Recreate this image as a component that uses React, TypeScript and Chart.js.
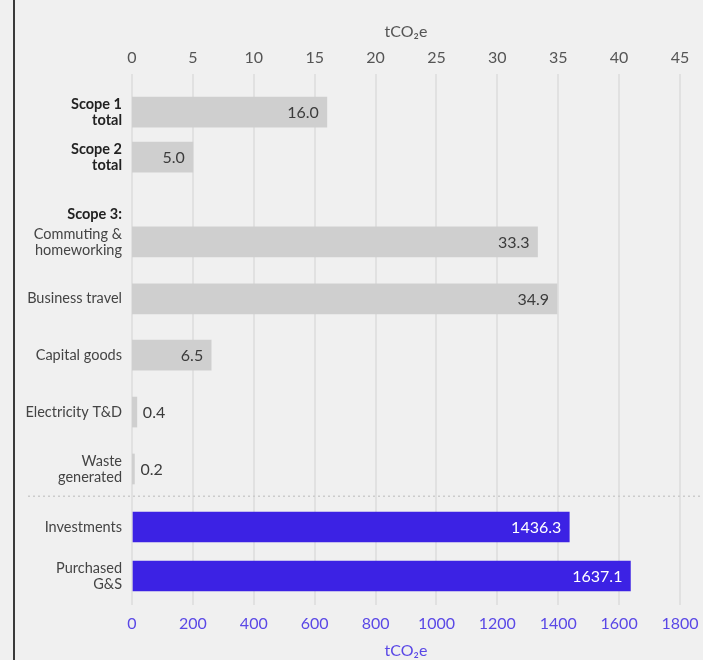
import React, { useEffect, useRef } from "react";
import { Chart, registerables } from "chart.js";

Chart.register(...registerables);

// Row labels (multi-line) as shown on the left axis
const categories: string[][] = [
  ["Scope 1", "total"],
  ["Scope 2", "total"],
  ["Scope 3:"],
  ["Commuting &", "homeworking"],
  ["Business travel"],
  ["Capital goods"],
  ["Electricity T&D"],
  ["Waste", "generated"],
  ["Investments"],
  ["Purchased", "G&S"],
];
const boldRows = [0, 1, 2];
// Row positions on the (hidden) row scale
const rowSlots = [0, 0.79, 1.79, 2.28, 3.28, 4.27, 5.27, 6.27, 7.29, 8.15];
// tCO2e values read against the top axis (0–45)
const smallValues: (number | null)[] = [16.0, 5.0, null, 33.3, 34.9, 6.5, 0.4, 0.2, null, null];
// tCO2e values read against the bottom axis (0–1800)
const largeValues: (number | null)[] = [null, null, null, null, null, null, null, null, 1436.3, 1637.1];
const topTicksMax = 45;
const topTicksStep = 5;
const bottomTicksMax = 1800;
const bottomTicksStep = 200;

const FONT = "Lato, 'Open Sans', sans-serif";
const GRAY_BAR = "#cfcfcf";
const PURPLE_BAR = "#3c22e4";
const PURPLE_TEXT = "#5a48e6";

export default function App() {
  const ref = useRef<HTMLCanvasElement | null>(null);

  useEffect(() => {
    if (!ref.current) return;
    const smallData = smallValues
      .map((v, i) => (v == null ? null : { x: v, y: rowSlots[i] }))
      .filter((d) => d != null);
    const largeData = largeValues
      .map((v, i) => (v == null ? null : { x: v, y: rowSlots[i] }))
      .filter((d) => d != null);

    const labelsPlugin = {
      id: "valueLabels",
      beforeDatasetsDraw(chart: any) {
        const ctx = chart.ctx;
        const y = chart.scales.y.getPixelForValue((rowSlots[7] + rowSlots[8]) / 2 - 0.03);
        ctx.save();
        ctx.strokeStyle = "#cccccc";
        ctx.lineWidth = 1.5;
        ctx.setLineDash([2, 3]);
        ctx.beginPath();
        ctx.moveTo(28, y);
        ctx.lineTo(chart.width, y);
        ctx.stroke();
        ctx.restore();
      },
      afterDatasetsDraw(chart: any) {
        const ctx = chart.ctx;
        ctx.save();
        ctx.font = `16px ${FONT}`;
        ctx.textBaseline = "middle";
        chart.data.datasets.forEach((ds: any, di: number) => {
          const meta = chart.getDatasetMeta(di);
          meta.data.forEach((el: any, i: number) => {
            const v = ds.data[i].x;
            const txt = v.toFixed(1);
            const w = ctx.measureText(txt).width;
            const barW = el.x - el.base;
            if (barW > w + 16) {
              ctx.textAlign = "right";
              ctx.fillStyle = di === 1 ? "#ffffff" : "#3c3c3c";
              ctx.fillText(txt, el.x - 8, el.y + 1);
            } else {
              ctx.textAlign = "left";
              ctx.fillStyle = "#3c3c3c";
              ctx.fillText(txt, el.x + 6, el.y + 1);
            }
          });
        });
        ctx.restore();
      },
    };

    const chart = new Chart(ref.current, {
      type: "bar",
      data: {
        datasets: [
          {
            label: "small",
            data: smallData as any,
            xAxisID: "xTop",
            yAxisID: "y",
            backgroundColor: GRAY_BAR,
            barThickness: 30,
            grouped: false,
          } as any,
          {
            label: "large",
            data: largeData as any,
            xAxisID: "x",
            yAxisID: "y",
            backgroundColor: PURPLE_BAR,
            barThickness: 30,
            grouped: false,
          } as any,
        ],
      },
      plugins: [labelsPlugin],
      options: {
        indexAxis: "y",
        animation: false,
        responsive: false,
        layout: { padding: { left: 0, right: 23, top: 0, bottom: 0 } },
        plugins: {
          legend: { display: false },
          tooltip: { enabled: false },
        },
        scales: {
          y: {
            type: "linear",
            reverse: true,
            offset: false,
            min: -0.67,
            max: 8.66,
            bounds: "data",
            grid: { display: false, drawTicks: false, offset: false },
            border: { display: false },
            afterBuildTicks: (scale: any) => {
              scale.ticks = rowSlots.map((v) => ({ value: v }));
            },
            afterFit: (scale: any) => {
              scale.width = 132;
              scale.paddingTop = 0;
              scale.paddingBottom = 0;
            },
            ticks: {
              autoSkip: false,
              padding: 10,
              callback: (_v: any, i: number) => categories[i],
              color: (c: any) => (boldRows.includes(c.index) ? "#222222" : "#444444"),
              font: (c: any) => ({
                family: FONT,
                size: 14.5,
                weight: boldRows.includes(c.index) ? "bold" : "normal",
                lineHeight: 16 / 14.5,
              }),
            },
          } as any,
          xTop: {
            type: "linear",
            position: "top",
            min: 0,
            max: topTicksMax,
            grid: { display: false, drawTicks: false },
            border: { display: false },
            afterFit: (scale: any) => {
              scale.height = 74;
              scale.paddingLeft = 0;
              scale.paddingRight = 0;
            },
            ticks: {
              stepSize: topTicksStep,
              padding: 7,
              color: "#555555",
              font: { family: FONT, size: 16 },
              callback: (v: any) => String(v),
            },
            title: {
              display: true,
              text: "tCO₂e",
              color: "#555555",
              font: { family: FONT, size: 16 },
              padding: { top: 22, bottom: 0 },
            },
          } as any,
          x: {
            type: "linear",
            position: "bottom",
            min: 0,
            max: bottomTicksMax,
            grid: { color: "#e1e1e1", lineWidth: 2, drawTicks: false },
            border: { display: false },
            afterFit: (scale: any) => {
              scale.height = 55;
              scale.paddingLeft = 0;
              scale.paddingRight = 0;
            },
            ticks: {
              stepSize: bottomTicksStep,
              padding: 9,
              color: PURPLE_TEXT,
              font: { family: FONT, size: 16 },
              callback: (v: any) => String(v),
            },
            title: {
              display: true,
              text: "tCO₂e",
              color: PURPLE_TEXT,
              font: { family: FONT, size: 16 },
              padding: { top: 0, bottom: 0 },
            },
          } as any,
        },
      },
    });
    return () => chart.destroy();
  }, []);

  return (
    <div
      style={{
        position: "absolute",
        left: 0,
        top: 0,
        width: 703,
        height: 660,
        background: "#f0f0f0",
        overflow: "hidden",
      }}
    >
      <div
        style={{
          position: "absolute",
          left: 13,
          top: 0,
          width: 2,
          height: 660,
          background: "#3a3a3a",
        }}
      />
      <canvas
        ref={ref}
        width={703}
        height={660}
        style={{ position: "absolute", left: 0, top: 0, width: 703, height: 660 }}
      />
    </div>
  );
}
